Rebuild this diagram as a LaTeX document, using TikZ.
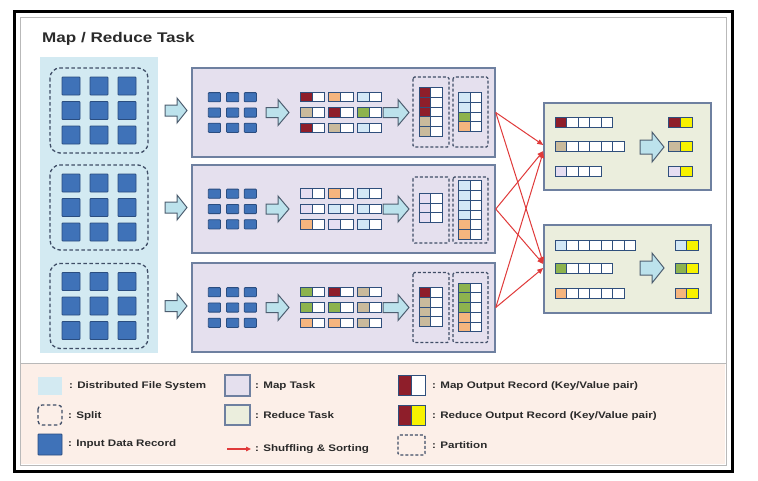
\documentclass[tikz,border=0pt]{standalone}
\usepackage{fontspec}
\setmainfont{Liberation Sans}[FakeStretch=1.22]
\usetikzlibrary{arrows.meta}
\definecolor{dfs}{HTML}{D3EAF2}
\definecolor{splitc}{HTML}{3F4D66}
\definecolor{recf}{HTML}{3F72B8}
\definecolor{recd}{HTML}{2A4D80}
\definecolor{mapf}{HTML}{E5E0EE}
\definecolor{redf}{HTML}{EBEEDD}
\definecolor{boxd}{HTML}{6E80A0}
\definecolor{legf}{HTML}{FCEFE8}
\definecolor{arrf}{HTML}{BCE2EC}
\definecolor{arrd}{HTML}{4D5E70}
\definecolor{dred}{HTML}{8E1E2A}
\definecolor{ktan}{HTML}{C9BA9C}
\definecolor{kor}{HTML}{F5B57E}
\definecolor{klb}{HTML}{D3E8F6}
\definecolor{kgr}{HTML}{8DB34E}
\definecolor{klav}{HTML}{E6DEF2}
\definecolor{kyel}{HTML}{F7F200}
\definecolor{cellbc}{HTML}{2F4F7C}
\definecolor{shufc}{HTML}{E03A3A}
\definecolor{txt}{HTML}{2A2A2A}
\tikzset{
  cellst/.style={draw=cellbc, line width=1pt},
  recst/.style={fill=recf, draw=recd, line width=0.8pt, rounded corners=0.8pt},
  splitst/.style={draw=splitc, line width=1.3pt, dash pattern=on 3.5pt off 2.5pt, rounded corners=10pt},
  partst/.style={draw=splitc, line width=1.1pt, dash pattern=on 3pt off 2pt, rounded corners=1.5pt},
  mapbox/.style={fill=mapf, draw=boxd, line width=1.5pt, inner sep=0pt},
  redbox/.style={fill=redf, draw=boxd, line width=1.5pt, inner sep=0pt},
  barrowst/.style={fill=arrf, draw=arrd, line width=1pt, line join=miter},
  shufst/.style={draw=shufc, line width=1pt, -{Triangle[length=6pt,width=5pt]}},
  legtxt/.style={anchor=base west, inner sep=0pt, text=txt, font=\bfseries\fontsize{9.5}{11}\selectfont},
}
\newcommand\kvp[6]{%
  \filldraw[cellst,fill=#5] ({#1},{#2}) rectangle ++({#3},{#4});
  \filldraw[cellst,fill=#6] ({#1+#3},{#2}) rectangle ++({#3},{#4});}
\newcommand\kvcol[5]{%
  \foreach \cc [count=\i] in {#4} {
    \pgfmathsetmacro\yy{#2-#5*#3/2+(\i-1)*#3}
    \kvp{#1}{\yy}{11.5}{#3}{\cc}{white}
  }}
\newcommand\kvrow[4]{%
  \filldraw[cellst,fill=#4] ({#1},{#2}) rectangle ++(11.5,10);
  \foreach \j in {1,...,#3} {\filldraw[cellst,fill=white] ({#1+\j*11.5},{#2}) rectangle ++(11.5,10);}}
\newcommand\gridrow[4]{%
  \kvp{300}{#1}{12.25}{9.5}{#2}{white}%
  \kvp{328.5}{#1}{12.25}{9.5}{#3}{white}%
  \kvp{357}{#1}{12.25}{9.5}{#4}{white}}
\newcommand\blkarrow[6]{%
  \filldraw[barrowst] ({#1},{#2-#5}) -- ({#1+#3-#4},{#2-#5}) -- ({#1+#3-#4},{#2-#6}) -- ({#1+#3},{#2}) -- ({#1+#3-#4},{#2+#6}) -- ({#1+#3-#4},{#2+#5}) -- ({#1},{#2+#5}) -- cycle;}
\begin{document}
\begin{tikzpicture}[x=1pt,y=-1pt]
\fill[white] (0,0) rectangle (758,480);
\useasboundingbox (0,0) rectangle (758,480);
% frames and legend background
\fill[legf] (21,363) rectangle (725,464);
\draw[gray!55, line width=0.8pt] (20,17) rectangle (726,465);
\draw[gray!55, line width=0.8pt] (20,363) -- (726,363);
\draw[black, line width=3pt] (14.5,11) rectangle (732,471);
% title
\node[anchor=base west, inner sep=0pt, text=txt, font=\bfseries\fontsize{14}{16}\selectfont] (title) at (42,42.3) {Map / Reduce Task};
% distributed file system with splits
\fill[dfs] (40,57) rectangle (158,353);
\foreach \yc in {110.5,207.5,306} {
  \draw[splitst] (50,{\yc-42.5}) rectangle (148,{\yc+42.5});
  \foreach \xc in {71,99,127} {
    \foreach \dy in {-24.5,0,24.5} {
      \filldraw[recst] ({\xc-9},{\yc+\dy-9}) rectangle ++(18,18);
    }
  }
  \blkarrow{165}{\yc}{22}{10}{5.5}{12.5}
}
% map tasks
\node[mapbox, minimum width=303pt, minimum height=89pt] (map1) at (343.5,112.5) {};
\node[mapbox, minimum width=303pt, minimum height=88pt] (map2) at (343.5,209) {};
\node[mapbox, minimum width=303pt, minimum height=89pt] (map3) at (343.5,307.5) {};
\foreach \yc in {112.5,209,307.5} {
  \foreach \xc in {208.3,226.5,244.2} {
    \foreach \dy in {-15.3,0,15.3} {
      \filldraw[recst] ({\xc},{\yc+\dy-4.6}) rectangle ++(12.2,9.2);
    }
  }
  \blkarrow{266}{\yc}{23}{11}{5}{13}
  \blkarrow{383}{\yc}{26}{11}{5}{13}
}
% map 1 outputs
\gridrow{92.45}{dred}{kor}{klb}
\gridrow{107.75}{ktan}{dred}{kgr}
\gridrow{123.05}{dred}{ktan}{klb}
\draw[partst] (413,77) rectangle (449,147);
\draw[partst] (453,77) rectangle (488,147);
\kvcol{419}{112}{9.7}{dred,dred,dred,ktan,ktan}{5}
\kvcol{458.5}{112}{9.7}{klb,klb,kgr,kor}{4}
% map 2 outputs
\gridrow{188.95}{klav}{kor}{klb}
\gridrow{204.25}{klav}{klb}{klb}
\gridrow{219.55}{kor}{klav}{klb}
\draw[partst] (413,177) rectangle (449,243);
\draw[partst] (453,177) rectangle (488,243);
\kvcol{419}{208}{9.7}{klav,klav,klav}{3}
\kvcol{458.5}{210}{9.7}{klb,klb,klb,klb,kor,kor}{6}
% map 3 outputs
\gridrow{287.45}{kgr}{dred}{ktan}
\gridrow{302.75}{kgr}{kgr}{ktan}
\gridrow{318.05}{kor}{kor}{ktan}
\draw[partst] (413,272.5) rectangle (449,342.5);
\draw[partst] (453,272.5) rectangle (488,342.5);
\kvcol{419}{307}{9.7}{dred,ktan,ktan,ktan}{4}
\kvcol{458.5}{307.5}{9.7}{kgr,kgr,kgr,kor,kor}{5}
% reduce tasks
\node[redbox, minimum width=167pt, minimum height=87pt] (red1) at (627.5,146.5) {};
\node[redbox, minimum width=167pt, minimum height=88pt] (red2) at (627.5,269) {};
\kvrow{555}{117}{4}{dred}
\kvrow{555}{141.7}{5}{ktan}
\kvrow{555}{166}{3}{klav}
\blkarrow{640}{147}{24}{12}{7}{15}
\kvp{668.3}{117}{12.2}{10}{dred}{kyel}
\kvp{668.3}{141.7}{12.2}{10}{ktan}{kyel}
\kvp{668.3}{166}{12.2}{10}{klav}{kyel}
\kvrow{555}{240}{6}{klb}
\kvrow{555}{263}{4}{kgr}
\kvrow{555}{288}{5}{kor}
\blkarrow{640}{268}{24}{12}{7}{15}
\kvp{675}{240}{11.7}{10}{klb}{kyel}
\kvp{675}{263}{11.7}{10}{kgr}{kyel}
\kvp{675}{288}{11.7}{10}{kor}{kyel}
% shuffling
\draw[shufst] (map1.east) -- ([yshift=1.5pt]red1.west);
\draw[shufst] (map1.east) -- ([yshift=6pt]red2.west);
\draw[shufst] (map2.east) -- ([yshift=-4.5pt]red1.west);
\draw[shufst] (map2.east) -- ([yshift=5pt]red2.west);
\draw[shufst] (map3.east) -- ([yshift=-5.5pt]red1.west);
\draw[shufst] (map3.east) -- ([yshift=1pt]red2.west);
% legend
\fill[dfs] (38,377) rectangle (62,395);
\draw[splitst, rounded corners=4pt] (38,405) rectangle (62,425);
\filldraw[recst] (38,434) rectangle (62,455);
\filldraw[mapbox] (225,375) rectangle (250,396);
\filldraw[redbox] (225,405) rectangle (250,425);
\coordinate (lgA) at (227,449);
\coordinate (lgB) at (251,449);
\draw[draw=shufc, line width=1.2pt, -{Triangle[length=5pt,width=4.5pt]}] (lgA) -- (lgB);
\kvp{398}{375}{13.5}{20}{dred}{white}
\kvp{398}{405}{13.5}{20}{dred}{kyel}
\draw[partst] (398,435) rectangle (425,455);
\node[legtxt] (l1) at (69,388.5) {: Distributed File System};
\node[legtxt] (l2) at (68,418.5) {: Split};
\node[legtxt] (l3) at (68,446.5) {: Input Data Record};
\node[legtxt] (l4) at (255,388.5) {: Map Task};
\node[legtxt] (l5) at (255,418.5) {: Reduce Task};
\node[legtxt] (l6) at (255,451) {: Shuffling \& Sorting};
\node[legtxt] (l7) at (432,388.5) {: Map Output Record (Key/Value pair)};
\node[legtxt] (l8) at (432,418.5) {: Reduce Output Record (Key/Value pair)};
\node[legtxt] (l9) at (432,448.5) {: Partition};
\end{tikzpicture}
\end{document}
